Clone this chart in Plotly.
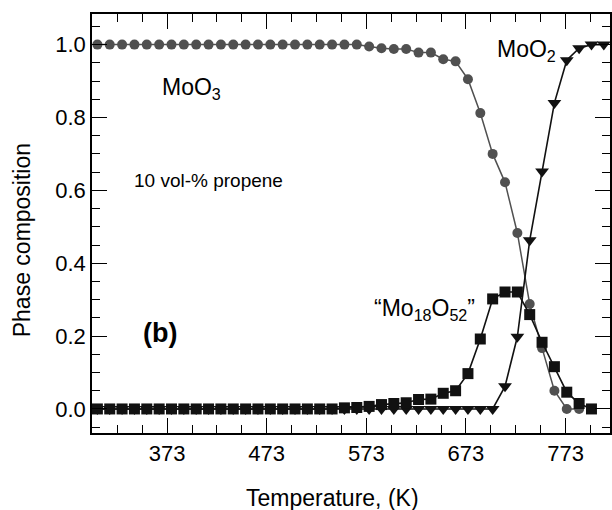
import plotly.graph_objects as go

# Temperature (K) of each measurement
temperature = [303.0, 315.4, 327.8, 340.2, 352.6, 365.0, 377.4, 389.8, 402.2, 414.6,
               427.0, 439.4, 451.8, 464.2, 476.6, 489.0, 501.4, 513.8, 526.2, 538.6,
               551.0, 563.4, 575.8, 588.2, 600.6, 613.0, 625.4, 637.8, 650.2, 662.6,
               675.0, 687.4, 699.8, 712.2, 724.6, 737.0, 749.4, 761.8, 774.2, 786.6,
               799.0, 811.4]

moo3 = [1.0, 1.0, 1.0, 1.0, 1.0, 1.0, 1.0, 1.0, 1.0, 1.0,
        1.0, 1.0, 1.0, 1.0, 1.0, 1.0, 1.0, 1.0, 1.0, 1.0,
        1.0, 1.0, 0.995, 0.99, 0.988, 0.988, 0.978, 0.978, 0.96, 0.954,
        0.905, 0.812, 0.70, 0.622, 0.483, 0.288, 0.167, 0.05, 0.0, 0.0]

mo18o52 = [0.0, 0.0, 0.0, 0.0, 0.0, 0.0, 0.0, 0.0, 0.0, 0.0,
           0.0, 0.0, 0.0, 0.0, 0.0, 0.0, 0.0, 0.0, 0.0, 0.0,
           0.003, 0.004, 0.007, 0.012, 0.015, 0.017, 0.026, 0.027, 0.043, 0.05,
           0.097, 0.192, 0.302, 0.321, 0.321, 0.259, 0.183, 0.116, 0.046, 0.015,
           0.0]

moo2 = [0.0, 0.0, 0.0, 0.0, 0.0, 0.0, 0.0, 0.0, 0.0, 0.0,
        0.0, 0.0, 0.0, 0.0, 0.0, 0.0, 0.0, 0.0, 0.0, 0.0,
        0.0, 0.0, 0.0, 0.0, 0.0, 0.0, 0.0, 0.0, 0.0, 0.0,
        0.0, 0.0, 0.0, 0.062, 0.198, 0.463, 0.652, 0.84, 0.957, 0.99,
        1.0, 1.0]

x_ticks = [373, 473, 573, 673, 773]
y_ticks = [0.0, 0.2, 0.4, 0.6, 0.8, 1.0]
y_tick_text = ["0.0", "0.2", "0.4", "0.6", "0.8", "1.0"]

FONT = "Liberation Sans, Arial, Helvetica, sans-serif"
GRAY = "#505050"
BLACK = "#111111"

fig = go.Figure()
fig.add_trace(go.Scatter(
    x=temperature[:len(moo3)], y=moo3, mode="lines+markers",
    line=dict(color=GRAY, width=1.5),
    marker=dict(symbol="circle", size=10, color=GRAY),
    showlegend=False, cliponaxis=False))
fig.add_trace(go.Scatter(
    x=temperature[:len(moo2)], y=moo2, mode="lines+markers",
    line=dict(color=BLACK, width=1.6),
    marker=dict(symbol="triangle-down", size=12, color=BLACK),
    showlegend=False, cliponaxis=False))
fig.add_trace(go.Scatter(
    x=temperature[:len(mo18o52)], y=mo18o52, mode="lines+markers",
    line=dict(color=BLACK, width=1.6),
    marker=dict(symbol="square", size=11, color=BLACK),
    showlegend=False, cliponaxis=False))

axis_common = dict(
    showgrid=False, zeroline=False, showline=True, linecolor="black", linewidth=1.5,
    mirror="ticks", ticks="inside", tickcolor="black", tickwidth=1.2, ticklen=15,
    tickfont=dict(family=FONT, size=22, color="black"),
)

fig.update_xaxes(
    range=[297.6, 817.6], tickvals=x_ticks,
    minor=dict(ticks="inside", dtick=25, tick0=298, ticklen=8, tickwidth=1.2, tickcolor="black"),
    **axis_common)
fig.update_yaxes(
    range=[-0.066, 1.084], tickvals=y_ticks, ticktext=y_tick_text,
    minor=dict(ticks="inside", dtick=0.05, tick0=0, ticklen=8, tickwidth=1.2, tickcolor="black"),
    **axis_common)

ann_font = dict(family=FONT, size=23, color="black")
fig.add_annotation(x=366, y=0.88, text="MoO<sub>3</sub>", showarrow=False,
                   xanchor="left", yanchor="middle", font=ann_font)
fig.add_annotation(x=702, y=0.985, text="MoO<sub>2</sub>", showarrow=False,
                   xanchor="left", yanchor="middle", font=ann_font)
fig.add_annotation(x=579, y=0.272, text="\u201cMo<sub>18</sub>O<sub>52</sub>\u201d", showarrow=False,
                   xanchor="left", yanchor="middle", font=ann_font)
fig.add_annotation(x=338, y=0.628, text="10 vol-% propene", showarrow=False,
                   xanchor="left", yanchor="middle", font=dict(family=FONT, size=19, color="black"))
fig.add_annotation(x=347, y=0.209, text="<b>(b)</b>", showarrow=False,
                   xanchor="left", yanchor="middle", font=dict(family=FONT, size=27, color="black"))

# axis titles as annotations for precise placement
fig.add_annotation(xref="paper", yref="paper", x=(333 - 92) / 520, y=-(498 - 433) / 419,
                   text="Temperature, (K)", showarrow=False, xanchor="center", yanchor="middle",
                   font=dict(family=FONT, size=23, color="black"))
fig.add_annotation(xref="paper", yref="paper", x=-(92 - 22) / 520, y=(433 - 240) / 419,
                   text="Phase composition", showarrow=False, textangle=-90,
                   xanchor="center", yanchor="middle",
                   font=dict(family=FONT, size=23, color="black"))

fig.update_layout(
    width=612, height=510,
    margin=dict(l=92, r=0, t=14, b=77),
    paper_bgcolor="white", plot_bgcolor="white",
    showlegend=False,
)

fig.write_html("out.html")
